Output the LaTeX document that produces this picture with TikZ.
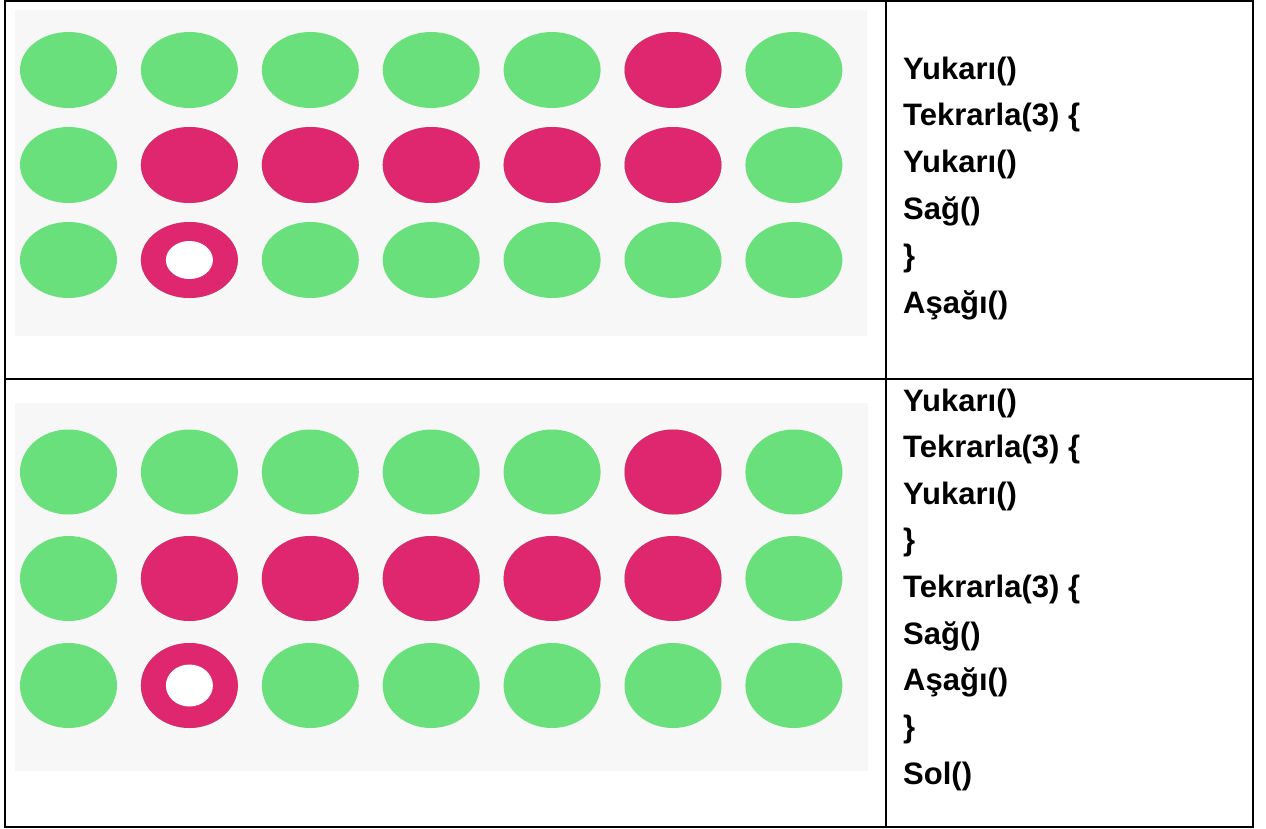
\documentclass[tikz,border=0pt]{standalone}
\usepackage{fontspec}
\setmainfont{Liberation Sans}
\definecolor{verde}{HTML}{6AE07C}
\definecolor{rosa}{HTML}{DE276E}
\definecolor{fundo}{HTML}{F7F7F7}
\tikzset{
  linha/.style={anchor=base west, inner sep=0pt,
    font=\bfseries\fontsize{31}{31}\selectfont},
  grade/.style={line width=2pt}
}

\begin{document}
\begin{tikzpicture}[x=1pt,y=-1pt]
  \useasboundingbox (0,0) rectangle (1266,828);
  % Fundo cinzento dos quadros.
  \fill[fundo] (15,10) rectangle (867,336);
  \fill[fundo] (15,403) rectangle (868,771);

  % Pontos do primeiro quadro.
  \foreach \y in {70,165,260}
    \foreach \c in {1,...,7}
      \fill[verde] ({68.5+120.9*(\c-1)},\y) ellipse (48.5pt and 38pt);
  \foreach \c/\y in {6/70,2/165,3/165,4/165,5/165,6/165,2/260}
    \fill[rosa] ({68.5+120.9*(\c-1)},\y) ellipse (48.5pt and 38pt);
  \fill[white] (189.4,260) ellipse (23.5pt and 19pt);

  % Pontos do segundo quadro.
  \foreach \y in {472,578.5,685.5}
    \foreach \c in {1,...,7}
      \fill[verde] ({68.5+120.9*(\c-1)},\y) ellipse (48.5pt and 42.5pt);
  \foreach \c/\y in {6/472,2/578.5,3/578.5,4/578.5,5/578.5,6/578.5,2/685.5}
    \fill[rosa] ({68.5+120.9*(\c-1)},\y) ellipse (48.5pt and 42.5pt);
  \fill[white] (189.4,685.5) ellipse (23.5pt and 21pt);

  % Tabela.
  \draw[grade] (5,1) rectangle (1253,827);
  \draw[grade] (886,1) -- (886,827);
  \draw[grade] (5,379) -- (1253,379);

  % Programa do primeiro quadro.
  \foreach \i/\t in {1/Yukarı(),2/Tekrarla(3) \{,3/Yukarı(),
      4/Sağ(),5/\},6/Aşağı()}
    \node[linha] (cima-\i) at (903,{79+46.8*(\i-1)}) {\t};

  % Programa do segundo quadro.
  \foreach \i/\t in {1/Yukarı(),2/Tekrarla(3) \{,3/Yukarı(),4/\},
      5/Tekrarla(3) \{,6/Sağ(),7/Aşağı(),8/\},9/Sol()}
    \node[linha] (baixo-\i) at (903,{411+46.65*(\i-1)}) {\t};
\end{tikzpicture}
\end{document}
